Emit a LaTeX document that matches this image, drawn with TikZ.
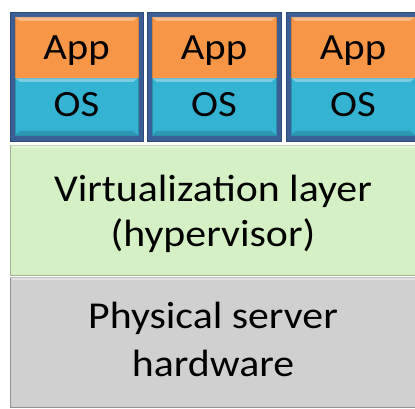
\documentclass[tikz,border=0pt]{standalone}
\usepackage{fontspec}
\setmainfont{Carlito}[FakeStretch=1.1]
\definecolor{appc}{HTML}{F79646}
\definecolor{osc}{HTML}{35B3D3}
\definecolor{framec}{HTML}{3A5E95}
\definecolor{greenc}{HTML}{D6F0C6}
\definecolor{grayc}{HTML}{D0D0D0}
\tikzset{
  x=1pt,y=1pt,
  vmframe/.style={fill=framec,draw=framec!80!black,line width=0.8pt},
  appbox/.style={fill=appc,draw=appc!85!black,line width=0.6pt},
  osbox/.style={fill=osc,draw=osc!80!black,line width=0.6pt},
  layerbox/.style={line width=0.8pt},
  lbl/.style={font=\fontsize{37}{40}\selectfont,text=black,anchor=base,inner sep=0pt},
  biglbl/.style={font=\fontsize{38}{44}\selectfont,text=black,anchor=base,inner sep=0pt},
}
\begin{document}
\begin{tikzpicture}
\useasboundingbox (0,0) rectangle (415,409);
\fill[white] (0,0) rectangle (415,409);
% layers
\draw[layerbox,fill=greenc,draw=greenc!75!black] (10,134) rectangle (418,264);
\fill[white,opacity=0.4] (10,264) -- (418,264) -- (418,261) -- (13,261) -- cycle;
\node[biglbl] (virt1) at (213,207) {Virtualization layer};
\node[biglbl] (virt2) at (213,162) {(hypervisor)};
\draw[layerbox,fill=grayc,draw=grayc!70!black] (10,2) rectangle (418,132);
\fill[white,opacity=0.4] (10,132) -- (418,132) -- (418,129) -- (13,129) -- cycle;
\node[biglbl] (phys1) at (213,80) {Physical server};
\node[biglbl] (phys2) at (213,32) {hardware};
% VMs
\foreach \i/\xa/\xb in {1/10/143,2/147/281,3/286/420}{
  \draw[vmframe] (\xa,268) rectangle (\xb,397);
  \draw[appbox] (\xa+5,331) rectangle (\xb-5,392);
  \draw[osbox] (\xa+5,274) rectangle (\xb-5,331);
  \fill[white,opacity=0.35] (\xa+5,392) -- (\xb-5,392) -- (\xb-10,388) -- (\xa+10,388) -- cycle;
  \fill[white,opacity=0.35] (\xa+5,331) -- (\xb-5,331) -- (\xb-10,327) -- (\xa+10,327) -- cycle;
  \fill[black,opacity=0.15] (\xa+5,274) -- (\xb-5,274) -- (\xb-10,278) -- (\xa+10,278) -- cycle;
  \node[lbl] (app\i) at ({(\xa+\xb)/2},349) {App};
  \node[lbl] (os\i) at ({(\xa+\xb)/2},292) {OS};
}
\end{tikzpicture}
\end{document}
